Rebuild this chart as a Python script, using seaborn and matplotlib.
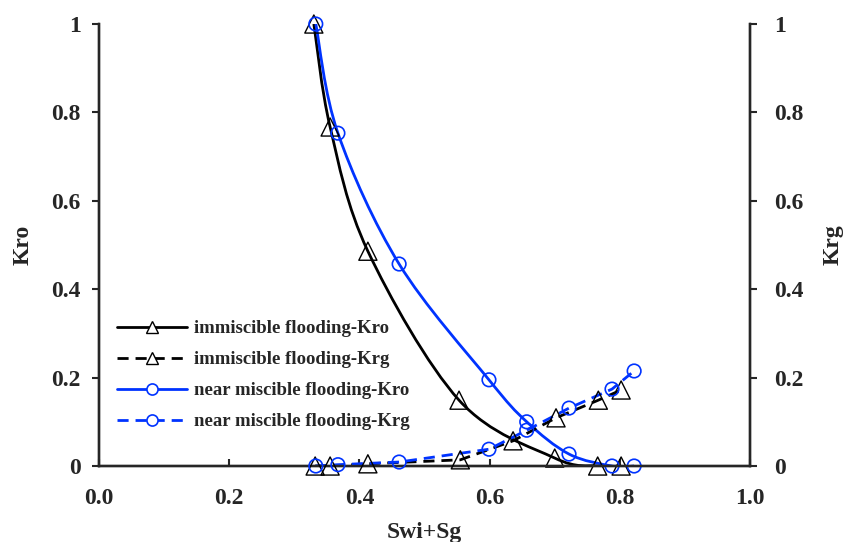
import numpy as np
import seaborn as sns
import matplotlib
matplotlib.use("Agg")
from matplotlib import pyplot as plt
from matplotlib.path import Path
from matplotlib.patches import PathPatch
from matplotlib.lines import Line2D

# Values
imm_kro_x = [0.330, 0.355, 0.413, 0.553, 0.700, 0.766, 0.802]
imm_kro_y = [1.000, 0.767, 0.486, 0.149, 0.018, 0.000, 0.000]
imm_krg_x = [0.332, 0.355, 0.413, 0.555, 0.636, 0.702, 0.767, 0.802]
imm_krg_y = [0.000, 0.000, 0.005, 0.014, 0.057, 0.109, 0.149, 0.172]
nm_kro_x = [0.333, 0.367, 0.461, 0.599, 0.657, 0.722, 0.788, 0.822]
nm_kro_y = [1.000, 0.753, 0.457, 0.195, 0.100, 0.027, 0.000, 0.000]
nm_krg_x = [0.333, 0.367, 0.461, 0.599, 0.657, 0.722, 0.788, 0.822]
nm_krg_y = [0.000, 0.003, 0.009, 0.038, 0.081, 0.131, 0.174, 0.215]

x_ticks = [0.0, 0.2, 0.4, 0.6, 0.8, 1.0]
y_ticks = [0, 0.2, 0.4, 0.6, 0.8, 1.0]
y_labels = ["0", "0.2", "0.4", "0.6", "0.8", "1"]

BLUE = "#0033ff"
FS = 17
LW = 2.0

sns.set_style("ticks")
plt.rcParams["font.family"] = ["Liberation Serif", "DejaVu Serif"]
plt.rcParams["font.weight"] = "bold"


def smooth_path(xs, ys):
    # Excel-like smoothed line: cubic Bezier through every point
    p = np.column_stack([xs, ys])
    n = len(p)
    verts = [p[0]]
    codes = [Path.MOVETO]
    for i in range(n - 1):
        p0 = p[i - 1] if i > 0 else p[i]
        p3 = p[i + 2] if i + 2 < n else p[i + 1]
        c1 = p[i] + (p[i + 1] - p0) / 6
        c2 = p[i + 1] - (p3 - p[i]) / 6
        verts += [c1, c2, p[i + 1]]
        codes += [Path.CURVE4] * 3
    return Path(verts, codes)


fig, ax = plt.subplots(figsize=(8.47, 5.42), dpi=100)
fig.subplots_adjust(left=0.1169, right=0.8855, top=0.9557, bottom=0.1402)
ax2 = ax.twinx()

# Kro curves (smoothed lines + markers)
ax.add_patch(PathPatch(smooth_path(imm_kro_x, imm_kro_y), fill=False,
                       edgecolor="black", lw=LW, zorder=2))
ax.add_patch(PathPatch(smooth_path(nm_kro_x, nm_kro_y), fill=False,
                       edgecolor=BLUE, lw=LW, zorder=2))
sns.scatterplot(x=imm_kro_x, y=imm_kro_y, ax=ax, marker="^", s=170,
                facecolor="none", edgecolor="black", linewidth=1.0,
                zorder=3, clip_on=False)
sns.scatterplot(x=nm_kro_x, y=nm_kro_y, ax=ax, marker="o", s=95,
                facecolor="none", edgecolor=BLUE, linewidth=1.2,
                zorder=3, clip_on=False)

# Krg curves (dashed) on the secondary axis
sns.lineplot(x=imm_krg_x, y=imm_krg_y, ax=ax2, color="black", lw=LW,
             sort=False, zorder=2)
ax2.lines[-1].set_dashes([4, 2.5])
sns.lineplot(x=nm_krg_x, y=nm_krg_y, ax=ax2, color=BLUE, lw=LW,
             sort=False, zorder=2)
ax2.lines[-1].set_dashes([4, 2.5])
sns.scatterplot(x=imm_krg_x, y=imm_krg_y, ax=ax2, marker="^", s=170,
                facecolor="none", edgecolor="black", linewidth=1.0,
                zorder=3, clip_on=False)
sns.scatterplot(x=nm_krg_x, y=nm_krg_y, ax=ax2, marker="o", s=95,
                facecolor="none", edgecolor=BLUE, linewidth=1.2,
                zorder=3, clip_on=False)

for a in (ax, ax2):
    a.set_xlim(0, 1)
    a.set_ylim(0, 1)
    a.set_yticks(y_ticks)
    a.set_yticklabels(y_labels, fontsize=FS, fontweight="bold")
    for s in a.spines.values():
        s.set_linewidth(1.7)
    a.spines["top"].set_visible(False)

ax.set_xticks(x_ticks)
ax.set_xticklabels([f"{v:.1f}" for v in x_ticks], fontsize=FS, fontweight="bold")
ax.tick_params(axis="x", direction="in", length=5, width=1.5, pad=16)
ax.tick_params(axis="y", direction="out", length=5, width=1.5, pad=8)
ax2.tick_params(axis="y", direction="out", length=5, width=1.5, pad=12)

ax.set_xlabel("Swi+Sg", fontsize=FS, fontweight="bold", labelpad=9)
ax.set_ylabel("Kro", fontsize=FS, fontweight="bold", labelpad=13)
ax2.set_ylabel("Krg", fontsize=FS, fontweight="bold", labelpad=14)

handles = [
    Line2D([], [], color="black", lw=LW, marker="^", ms=9, mfc="white", mec="black", mew=1.0),
    Line2D([], [], color="black", lw=LW, ls=(0, (4, 2.5)), marker="^", ms=9, mfc="white", mec="black", mew=1.0),
    Line2D([], [], color=BLUE, lw=LW, marker="o", ms=8, mfc="white", mec=BLUE, mew=1.2),
    Line2D([], [], color=BLUE, lw=LW, ls=(0, (4, 2.5)), marker="o", ms=8, mfc="white", mec=BLUE, mew=1.2),
]
labels = ["immiscible flooding-Kro", "immiscible flooding-Krg",
          "near miscible flooding-Kro", "near miscible flooding-Krg"]
ax2.legend(handles, labels, loc="lower left", bbox_to_anchor=(0.002, 0.043),
           frameon=False, handlelength=3.7, handletextpad=0.4,
           labelspacing=0.74, prop={"size": 13.5, "weight": "bold"})

fig.savefig("out.png", dpi=100)
